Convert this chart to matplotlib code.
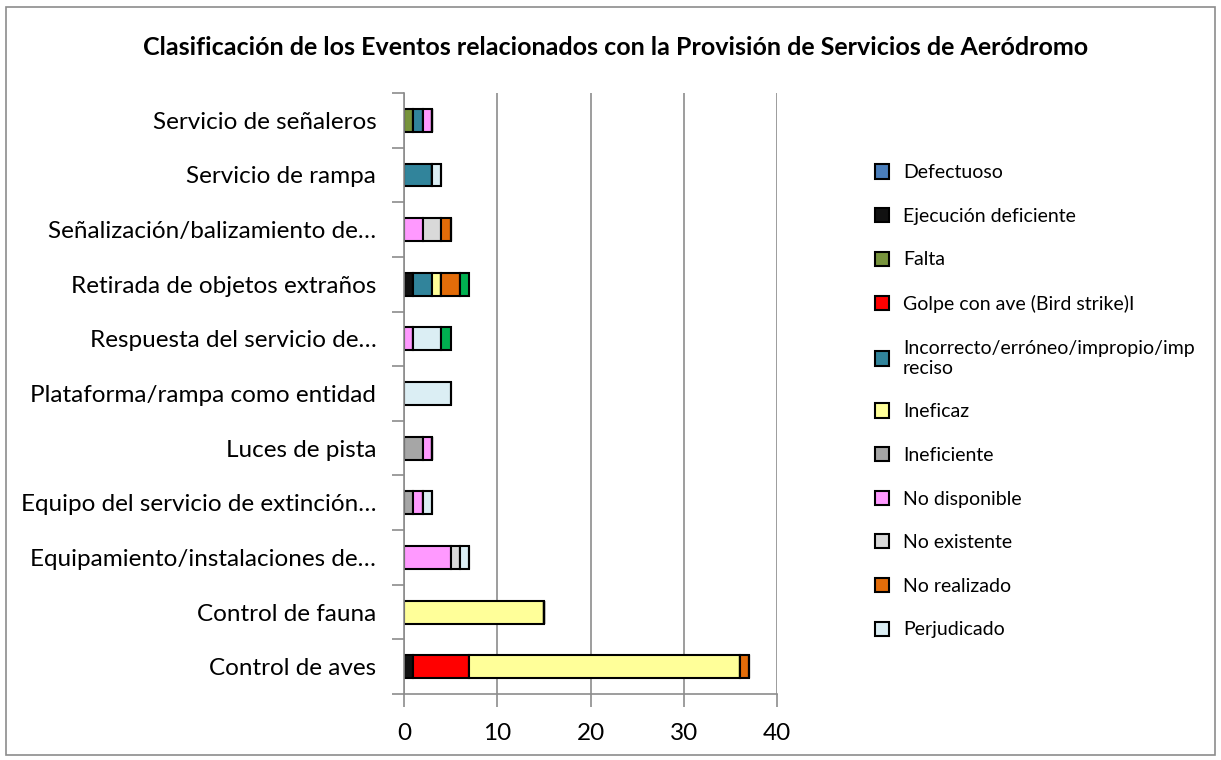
import matplotlib
matplotlib.use("Agg")
import matplotlib.pyplot as plt
from matplotlib.patches import Rectangle
import numpy as np

plt.rcParams['font.family'] = ['Lato', 'DejaVu Sans']

categories = [
    "Control de aves",
    "Control de fauna",
    "Equipamiento/instalaciones de…",
    "Equipo del servicio de extinción…",
    "Luces de pista",
    "Plataforma/rampa como entidad",
    "Respuesta del servicio de…",
    "Retirada de objetos extraños",
    "Señalización/balizamiento de…",
    "Servicio de rampa",
    "Servicio de señaleros",
]

series_names = [
    "Defectuoso",
    "Ejecución deficiente",
    "Falta",
    "Golpe con ave (Bird strike)I",
    "Incorrecto/erróneo/impropio/imp\nreciso",
    "Ineficaz",
    "Ineficiente",
    "No disponible",
    "No existente",
    "No realizado",
    "Perjudicado",
    "_Otros",
]

defectuoso      = [0, 0, 0, 0, 0, 0, 0, 0, 0, 0, 0]
ejecucion_def   = [1, 0, 0, 0, 0, 0, 0, 1, 0, 0, 0]
falta           = [0, 0, 0, 0, 0, 0, 0, 0, 0, 0, 1]
golpe_ave       = [6, 0, 0, 0, 0, 0, 0, 0, 0, 0, 0]
incorrecto      = [0, 0, 0, 0, 0, 0, 0, 2, 0, 3, 1]
ineficaz        = [29, 15, 0, 0, 0, 0, 0, 1, 0, 0, 0]
ineficiente     = [0, 0, 0, 1, 2, 0, 0, 0, 0, 0, 0]
no_disponible   = [0, 0, 5, 1, 1, 0, 1, 0, 2, 0, 1]
no_existente    = [0, 0, 1, 0, 0, 0, 0, 0, 2, 0, 0]
no_realizado    = [1, 0, 0, 0, 0, 0, 0, 2, 1, 0, 0]
perjudicado     = [0, 0, 1, 1, 0, 5, 3, 0, 0, 1, 0]
otros           = [0, 0, 0, 0, 0, 0, 1, 1, 0, 0, 0]

values = [defectuoso, ejecucion_def, falta, golpe_ave, incorrecto, ineficaz,
          ineficiente, no_disponible, no_existente, no_realizado, perjudicado, otros]

colors = ["#4A7EBB", "#111111", "#77933C", "#FF0000", "#31849B", "#FFFF99",
          "#A6A6A6", "#FF99FF", "#D9D9D9", "#E36C09", "#DBEEF4", "#00B050"]

fig = plt.figure(figsize=(12.21, 7.60), dpi=100)
fig.patches.append(Rectangle((0.005, 0.006), 0.99, 0.985, transform=fig.transFigure,
                             fill=False, edgecolor="#8c8c8c", linewidth=1.2))

ax = fig.add_axes([0.3309, 0.0868, 0.3055, 0.7908])
y = np.arange(len(categories))
left = np.zeros(len(categories))
handles = []
for name, vals, col in zip(series_names, values, colors):
    v = np.array(vals, dtype=float)
    h = ax.barh(y, v, left=left, height=0.42, color=col, edgecolor="black",
                linewidth=1.5, label=name)
    handles.append(h)
    left += v

ax.set_xlim(0, 40)
ax.set_ylim(-0.5, len(categories) - 0.5)
ax.set_xticks([0, 10, 20, 30, 40])
ax.set_yticks(y)
ax.set_yticklabels(categories)
ax.set_yticks(np.arange(-0.5, len(categories), 1), minor=True)
ax.tick_params(axis='y', which='major', length=0, pad=20, labelsize=17.5)
ax.tick_params(axis='y', which='minor', length=9, color="#8c8c8c", width=1.2)
ax.tick_params(axis='x', length=9, color="#8c8c8c", width=1.2, pad=12, labelsize=17.5)
ax.grid(axis='x', color="#8c8c8c", linewidth=1.2)
ax.set_axisbelow(True)
for s in ["top", "right"]:
    ax.spines[s].set_visible(False)
for s in ["left", "bottom"]:
    ax.spines[s].set_color("#8c8c8c")
    ax.spines[s].set_linewidth(1.2)

fig.text(0.504, 0.938, "Clasificación de los Eventos relacionados con la Provisión de Servicios de Aeródromo",
         ha="center", va="center", fontsize=18, fontweight="bold")

leg_handles = handles[:-1]
leg_labels = series_names[:-1]
fig.legend(leg_handles, leg_labels, loc="upper left", bbox_to_anchor=(0.702, 0.807),
           frameon=False, fontsize=14, labelspacing=1.37, handlelength=0.75,
           handleheight=0.75, handletextpad=0.7)

fig.savefig("out.png", dpi=100)
